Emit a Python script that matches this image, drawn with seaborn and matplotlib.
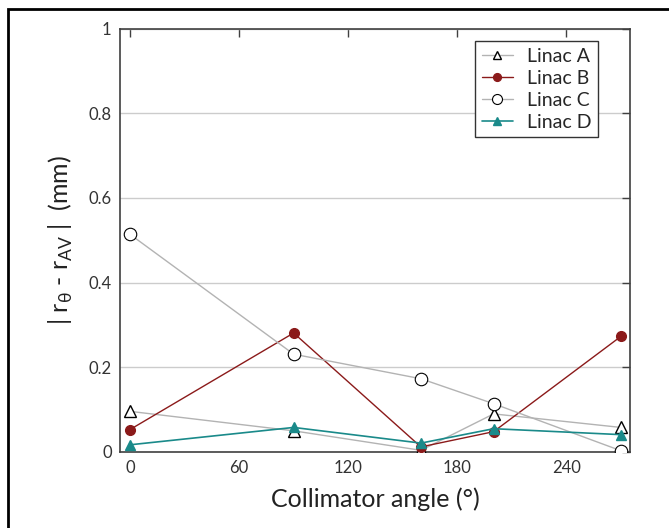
import matplotlib
matplotlib.use("Agg")
import matplotlib.pyplot as plt
import seaborn as sns
import pandas as pd
from matplotlib.patches import Rectangle

angles = [0, 90, 160, 200, 270]
linac_a = [0.096, 0.050, 0.004, 0.090, 0.058]
linac_b = [0.053, 0.281, 0.012, 0.048, 0.273]
linac_c = [0.514, 0.231, 0.173, 0.114, 0.003]
linac_d = [0.017, 0.058, 0.021, 0.055, 0.041]
series_names = ["Linac A", "Linac B", "Linac C", "Linac D"]
x_ticks = [0, 60, 120, 180, 240]
y_ticks = [0, 0.2, 0.4, 0.6, 0.8, 1.0]
y_tick_labels = ["0", "0.2", "0.4", "0.6", "0.8", "1"]

df = pd.DataFrame({
    "angle": angles * 4,
    "value": linac_a + linac_b + linac_c + linac_d,
    "series": sum([[n] * len(angles) for n in series_names], []),
})

sns.set_style("white")
plt.rcParams['font.family'] = ['Lato', 'DejaVu Sans']
plt.rcParams['mathtext.fontset'] = 'custom'
plt.rcParams['mathtext.rm'] = 'Lato'

fig = plt.figure(figsize=(6.69, 5.28), dpi=100)
ax = fig.add_axes([120/669, 1 - 452/528, (630-120)/669, (452-28.5)/528])

styles = {
    "Linac A": dict(color="#b3b3b3", marker="^", mfc="white", mec="black", ms=8, lw=1.0),
    "Linac B": dict(color="#8b1a1a", marker="o", mfc="#8b1a1a", mec="#8b1a1a", ms=7, lw=1.0),
    "Linac C": dict(color="#b3b3b3", marker="o", mfc="white", mec="black", ms=9, lw=1.0, mew=0.8),
    "Linac D": dict(color="#1a8a8a", marker="^", mfc="#1a8a8a", mec="#1a8a8a", ms=7, lw=1.2),
}

for name in series_names:
    sub = df[df["series"] == name]
    st = styles[name]
    sns.lineplot(data=sub, x="angle", y="value", ax=ax, color=st["color"], lw=st["lw"],
                 marker=st["marker"], markerfacecolor=st["mfc"], markeredgecolor=st["mec"],
                 markersize=st["ms"], markeredgewidth=st.get("mew", 1.0), label=name,
                 zorder=3)

ax.set_xlim(-5.5, 275)
ax.set_ylim(0, 1)
ax.set_xticks(x_ticks)
ax.set_yticks(y_ticks)
ax.set_yticklabels(y_tick_labels)
ax.yaxis.grid(True, color="#cccccc", lw=1.0)
ax.set_axisbelow(True)
for s in ax.spines.values():
    s.set_color("#404040")
    s.set_linewidth(1.2)
ax.tick_params(axis="both", direction="in", length=6, width=1, color="#404040",
               top=True, right=True, labelsize=12, labelcolor="#333333", pad=6)
ax.set_xlabel("Collimator angle (°)", fontsize=18, color="#222222", labelpad=8)
ax.set_ylabel(r"| r$_\mathregular{θ}$ - r$_\mathregular{AV}$ |  (mm)", fontsize=18,
              color="#222222", labelpad=10)

leg = ax.legend(loc="upper right", bbox_to_anchor=(0.937, 0.970), borderaxespad=0,
                fontsize=14, frameon=True, fancybox=False, edgecolor="#333333", framealpha=1,
                handlelength=1.6, borderpad=0.35, labelspacing=0.25, handletextpad=0.7,
                markerscale=0.8)
leg.get_frame().set_linewidth(1.0)

fig.patches.append(Rectangle((8/669, -0.1), 1.2, 1 - 9/528 + 0.1, transform=fig.transFigure,
                             fill=False, edgecolor="black", lw=2.0))

fig.savefig("out.png", dpi=100)
